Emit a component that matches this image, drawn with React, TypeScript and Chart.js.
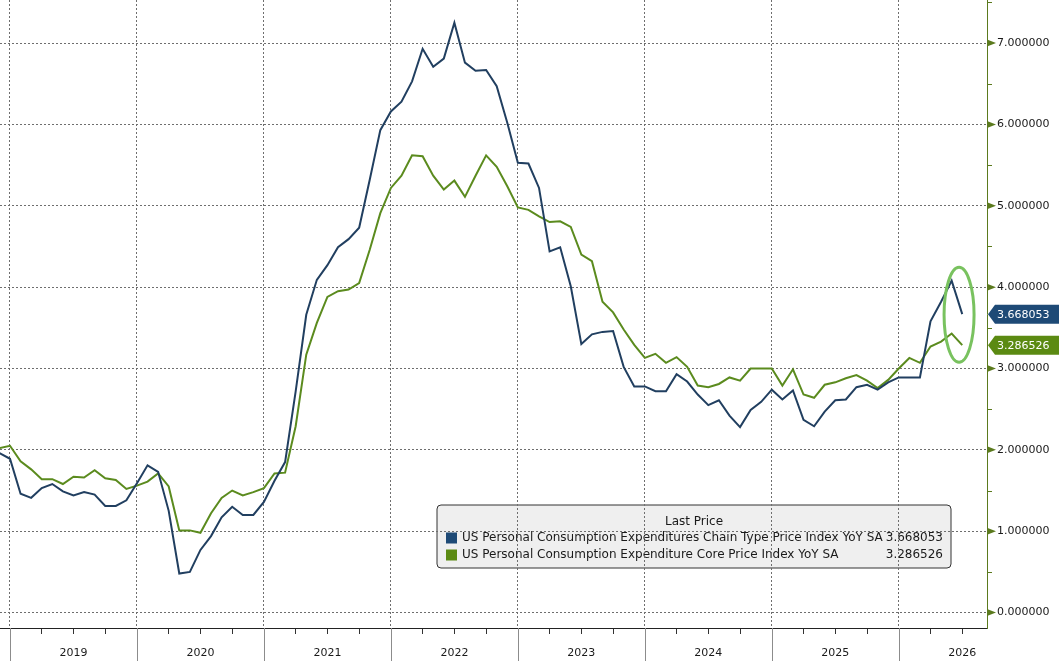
import React, { useEffect, useRef } from 'react';
import { Chart, registerables } from 'chart.js';

Chart.register(...registerables);

// Monthly observations (month-end), Nov 2018 – Jun 2026
const months: string[] = [
  '2018-11', '2018-12',
  '2019-01', '2019-02', '2019-03', '2019-04', '2019-05', '2019-06', '2019-07', '2019-08', '2019-09', '2019-10', '2019-11', '2019-12',
  '2020-01', '2020-02', '2020-03', '2020-04', '2020-05', '2020-06', '2020-07', '2020-08', '2020-09', '2020-10', '2020-11', '2020-12',
  '2021-01', '2021-02', '2021-03', '2021-04', '2021-05', '2021-06', '2021-07', '2021-08', '2021-09', '2021-10', '2021-11', '2021-12',
  '2022-01', '2022-02', '2022-03', '2022-04', '2022-05', '2022-06', '2022-07', '2022-08', '2022-09', '2022-10', '2022-11', '2022-12',
  '2023-01', '2023-02', '2023-03', '2023-04', '2023-05', '2023-06', '2023-07', '2023-08', '2023-09', '2023-10', '2023-11', '2023-12',
  '2024-01', '2024-02', '2024-03', '2024-04', '2024-05', '2024-06', '2024-07', '2024-08', '2024-09', '2024-10', '2024-11', '2024-12',
  '2025-01', '2025-02', '2025-03', '2025-04', '2025-05', '2025-06', '2025-07', '2025-08', '2025-09', '2025-10', '2025-11', '2025-12',
  '2026-01', '2026-02', '2026-03', '2026-04', '2026-05', '2026-06',
];

// US Personal Consumption Expenditures Chain Type Price Index YoY SA
const pceHeadline: number[] = [
  1.96, 1.89,
  1.46, 1.41, 1.53, 1.58, 1.49, 1.44, 1.48, 1.45, 1.31, 1.31, 1.38, 1.59,
  1.81, 1.73, 1.25, 0.48, 0.50, 0.77, 0.94, 1.17, 1.30, 1.20, 1.20, 1.36,
  1.62, 1.85, 2.72, 3.66, 4.09, 4.27, 4.49, 4.59, 4.73, 5.32, 5.93, 6.16,
  6.28, 6.53, 6.93, 6.71, 6.81, 7.25, 6.76, 6.66, 6.67, 6.47, 6.02, 5.53,
  5.52, 5.22, 4.44, 4.49, 4.01, 3.30, 3.42, 3.45, 3.46, 3.02, 2.78, 2.78,
  2.72, 2.72, 2.93, 2.84, 2.68, 2.55, 2.61, 2.42, 2.28, 2.49, 2.59, 2.74,
  2.62, 2.73, 2.37, 2.29, 2.47, 2.61, 2.62, 2.77, 2.80, 2.74, 2.83, 2.89,
  2.89, 2.89, 3.58, 3.82, 4.08, 3.668053,
];

// US Personal Consumption Expenditure Core Price Index YoY SA
const pceCore: number[] = [
  2.02, 2.05,
  1.86, 1.76, 1.64, 1.64, 1.58, 1.67, 1.66, 1.75, 1.65, 1.63, 1.52, 1.56,
  1.61, 1.71, 1.55, 1.01, 1.01, 0.98, 1.22, 1.41, 1.50, 1.44, 1.48, 1.53,
  1.71, 1.72, 2.29, 3.17, 3.56, 3.88, 3.95, 3.97, 4.05, 4.46, 4.91, 5.22,
  5.37, 5.62, 5.61, 5.37, 5.20, 5.31, 5.11, 5.37, 5.62, 5.48, 5.24, 4.98,
  4.95, 4.87, 4.80, 4.81, 4.74, 4.40, 4.32, 3.82, 3.69, 3.48, 3.29, 3.13,
  3.18, 3.07, 3.14, 3.02, 2.79, 2.77, 2.81, 2.89, 2.85, 3.00, 3.00, 3.00,
  2.79, 2.99, 2.68, 2.64, 2.80, 2.83, 2.88, 2.92, 2.85, 2.76, 2.86, 3.00,
  3.13, 3.07, 3.27, 3.33, 3.43, 3.286526,
];

const seriesNames: string[] = [
  'US Personal Consumption Expenditures Chain Type Price Index YoY SA',
  'US Personal Consumption Expenditure Core Price Index YoY SA',
];
const seriesColors: string[] = ['#213f60', '#5b8b1e'];
const boxColors: string[] = ['#1e4a76', '#5b8a12'];

const yearLabels: string[] = ['2019', '2020', '2021', '2022', '2023', '2024', '2025', '2026'];
const yMajorTicks: number[] = [0, 1, 2, 3, 4, 5, 6, 7];

const FONT = "'DejaVu Sans', Verdana, sans-serif";
const X_MIN = -0.945;
const X_MAX = 92.34;
const Y_MIN = -0.19;
const Y_MAX = 7.53;

const monthIndex = (m: string) => {
  const [y, mo] = m.split('-').map(Number);
  return (y - 2019) * 12 + mo; // Dec 2018 = 0 (month-end positions)
};

const isYearBoundary = (v: number) => Math.abs(((v % 12) + 12) % 12) < 1e-9;
const isInt = (v: number) => Math.abs(v - Math.round(v)) < 1e-9;

const overlayPlugin = {
  id: 'overlay',
  beforeDraw(chart: any) {
    // Legend box (drawn under the grid, like the reference)
    const ctx = chart.ctx;
    const x0 = 437, y0 = 505, w = 514, h = 63, r = 4;
    ctx.save();
    ctx.beginPath();
    ctx.moveTo(x0 + r, y0);
    ctx.lineTo(x0 + w - r, y0);
    ctx.arcTo(x0 + w, y0, x0 + w, y0 + r, r);
    ctx.lineTo(x0 + w, y0 + h - r);
    ctx.arcTo(x0 + w, y0 + h, x0 + w - r, y0 + h, r);
    ctx.lineTo(x0 + r, y0 + h);
    ctx.arcTo(x0, y0 + h, x0, y0 + h - r, r);
    ctx.lineTo(x0, y0 + r);
    ctx.arcTo(x0, y0, x0 + r, y0, r);
    ctx.closePath();
    ctx.fillStyle = '#efefef';
    ctx.fill();
    ctx.strokeStyle = '#333';
    ctx.lineWidth = 1;
    ctx.stroke();

    ctx.font = `12px ${FONT}`;
    ctx.fillStyle = '#1a1a1a';
    ctx.textBaseline = 'middle';
    ctx.textAlign = 'center';
    ctx.fillText('Last Price', 694, 522);
    const lasts = [pceHeadline[pceHeadline.length - 1], pceCore[pceCore.length - 1]];
    seriesNames.forEach((name, i) => {
      const yy = 538 + i * 17;
      ctx.fillStyle = boxColors[i];
      ctx.fillRect(446, yy - 5.5, 11, 11);
      ctx.fillStyle = '#1a1a1a';
      ctx.textAlign = 'left';
      ctx.fillText(name, 462, yy);
      ctx.textAlign = 'right';
      ctx.fillText(lasts[i].toFixed(6), 943, yy);
    });
    ctx.restore();
  },
  afterDraw(chart: any) {
    const ctx = chart.ctx;
    const xs = chart.scales.x;
    const ys = chart.scales.y;
    const area = chart.chartArea;
    ctx.save();

    // Year separators below the axis
    ctx.strokeStyle = '#8c8c8c';
    ctx.lineWidth = 1;
    yearLabels.forEach((_, i) => {
      const px = Math.round(xs.getPixelForValue(i * 12)) + 0.5;
      ctx.beginPath();
      ctx.moveTo(px, area.bottom);
      ctx.lineTo(px, chart.height);
      ctx.stroke();
    });

    // Y axis markers: triangles at majors, short ticks at halves
    ctx.fillStyle = '#5b7a1e';
    ctx.strokeStyle = '#5b7a1e';
    yMajorTicks.forEach((v) => {
      const py = ys.getPixelForValue(v);
      ctx.beginPath();
      ctx.moveTo(area.right, py - 3.5);
      ctx.lineTo(area.right + 9, py);
      ctx.lineTo(area.right, py + 3.5);
      ctx.closePath();
      ctx.fill();
      if (v + 0.5 < Y_MAX) {
        const pm = Math.round(ys.getPixelForValue(v + 0.5)) + 0.5;
        ctx.beginPath();
        ctx.moveTo(area.right, pm);
        ctx.lineTo(area.right + 5, pm);
        ctx.stroke();
      }
    });

    // Last value boxes
    const lasts = [pceHeadline[pceHeadline.length - 1], pceCore[pceCore.length - 1]];
    lasts.forEach((v, i) => {
      const py = ys.getPixelForValue(v);
      const left = area.right + 1;
      ctx.beginPath();
      ctx.moveTo(left, py);
      ctx.lineTo(left + 7, py - 9.5);
      ctx.lineTo(chart.width, py - 9.5);
      ctx.lineTo(chart.width, py + 9.5);
      ctx.lineTo(left + 7, py + 9.5);
      ctx.closePath();
      ctx.fillStyle = boxColors[i];
      ctx.fill();
      ctx.fillStyle = '#ffffff';
      ctx.font = `11px ${FONT}`;
      ctx.textAlign = 'left';
      ctx.textBaseline = 'middle';
      ctx.fillText(v.toFixed(6), area.right + 10, py + 0.5);
    });

    // Highlight ellipse around latest readings
    const cx = xs.getPixelForValue(89.7);
    const cy = ys.getPixelForValue(3.66);
    ctx.beginPath();
    ctx.ellipse(cx, cy, 15, 47.5, 0, 0, Math.PI * 2);
    ctx.strokeStyle = '#79c25f';
    ctx.lineWidth = 3;
    ctx.stroke();

    ctx.restore();
  },
};

export default function App() {
  const canvasRef = useRef<HTMLCanvasElement | null>(null);

  useEffect(() => {
    if (!canvasRef.current) return;
    const xs = months.map(monthIndex);
    const quarterTicks: number[] = [];
    for (let v = 0; v <= 90; v += 3) quarterTicks.push(v);
    const halfTicks: number[] = [];
    for (let v = 0; v <= 7.5; v += 0.5) halfTicks.push(v);

    const chart = new Chart(canvasRef.current, {
      type: 'line',
      data: {
        datasets: [
          {
            label: seriesNames[0],
            data: xs.map((x, i) => ({ x, y: pceHeadline[i] })),
            borderColor: seriesColors[0],
            borderWidth: 2,
            pointRadius: 0,
            tension: 0,
          },
          {
            label: seriesNames[1],
            data: xs.map((x, i) => ({ x, y: pceCore[i] })),
            borderColor: seriesColors[1],
            borderWidth: 2,
            pointRadius: 0,
            tension: 0,
          },
        ],
      },
      options: {
        animation: false,
        responsive: false,
        devicePixelRatio: 1,
        layout: { padding: 0 },
        plugins: { legend: { display: false }, tooltip: { enabled: false } },
        scales: {
          x: {
            type: 'linear',
            position: 'bottom',
            min: X_MIN,
            max: X_MAX,
            afterBuildTicks: (s: any) => {
              s.ticks = quarterTicks.map((value) => ({ value }));
            },
            afterFit: (s: any) => {
              s.height = 33;
              s.paddingLeft = 0;
              s.paddingRight = 0;
            },
            grid: {
              color: (c: any) => (c.tick && isYearBoundary(c.tick.value) ? '#6e6e6e' : 'transparent'),
              lineWidth: 1,
              tickLength: 6,
              tickColor: (c: any) => (c.tick && isYearBoundary(c.tick.value) ? 'transparent' : '#333'),
            },
            border: { display: true, color: '#222', width: 1, dash: [2, 2] },
            ticks: {
              autoSkip: false,
              maxRotation: 0,
              padding: 13,
              color: '#1a1a1a',
              font: { family: FONT, size: 11 },
              callback: (v: any) => {
                const r = ((v % 12) + 12) % 12;
                if (Math.abs(r - 6) > 1e-9) return '';
                const idx = Math.round((v - 6) / 12);
                return yearLabels[idx] ?? '';
              },
            },
          },
          y: {
            type: 'linear',
            position: 'right',
            min: Y_MIN,
            max: Y_MAX,
            afterBuildTicks: (s: any) => {
              s.ticks = halfTicks.map((value) => ({ value }));
            },
            afterFit: (s: any) => {
              s.width = 72;
              s.paddingTop = 0;
              s.paddingBottom = 0;
            },
            grid: {
              color: (c: any) => (c.tick && isInt(c.tick.value) ? '#6e6e6e' : 'transparent'),
              lineWidth: 1,
              tickLength: 9,
              tickColor: 'transparent',
            },
            border: { display: true, color: '#5b7a1e', width: 1, dash: [2, 2] },
            ticks: {
              autoSkip: false,
              padding: 1,
              color: '#1a1a1a',
              font: { family: FONT, size: 11 },
              callback: (v: any) => (isInt(v) ? Number(v).toFixed(6) : ''),
            },
          },
        },
      },
      plugins: [overlayPlugin],
    } as any);

    return () => chart.destroy();
  }, []);

  return (
    <div style={{ position: 'absolute', left: 0, top: 0, width: 1059, height: 661, background: '#fff' }}>
      <canvas ref={canvasRef} width={1059} height={661} style={{ display: 'block' }} />
    </div>
  );
}
